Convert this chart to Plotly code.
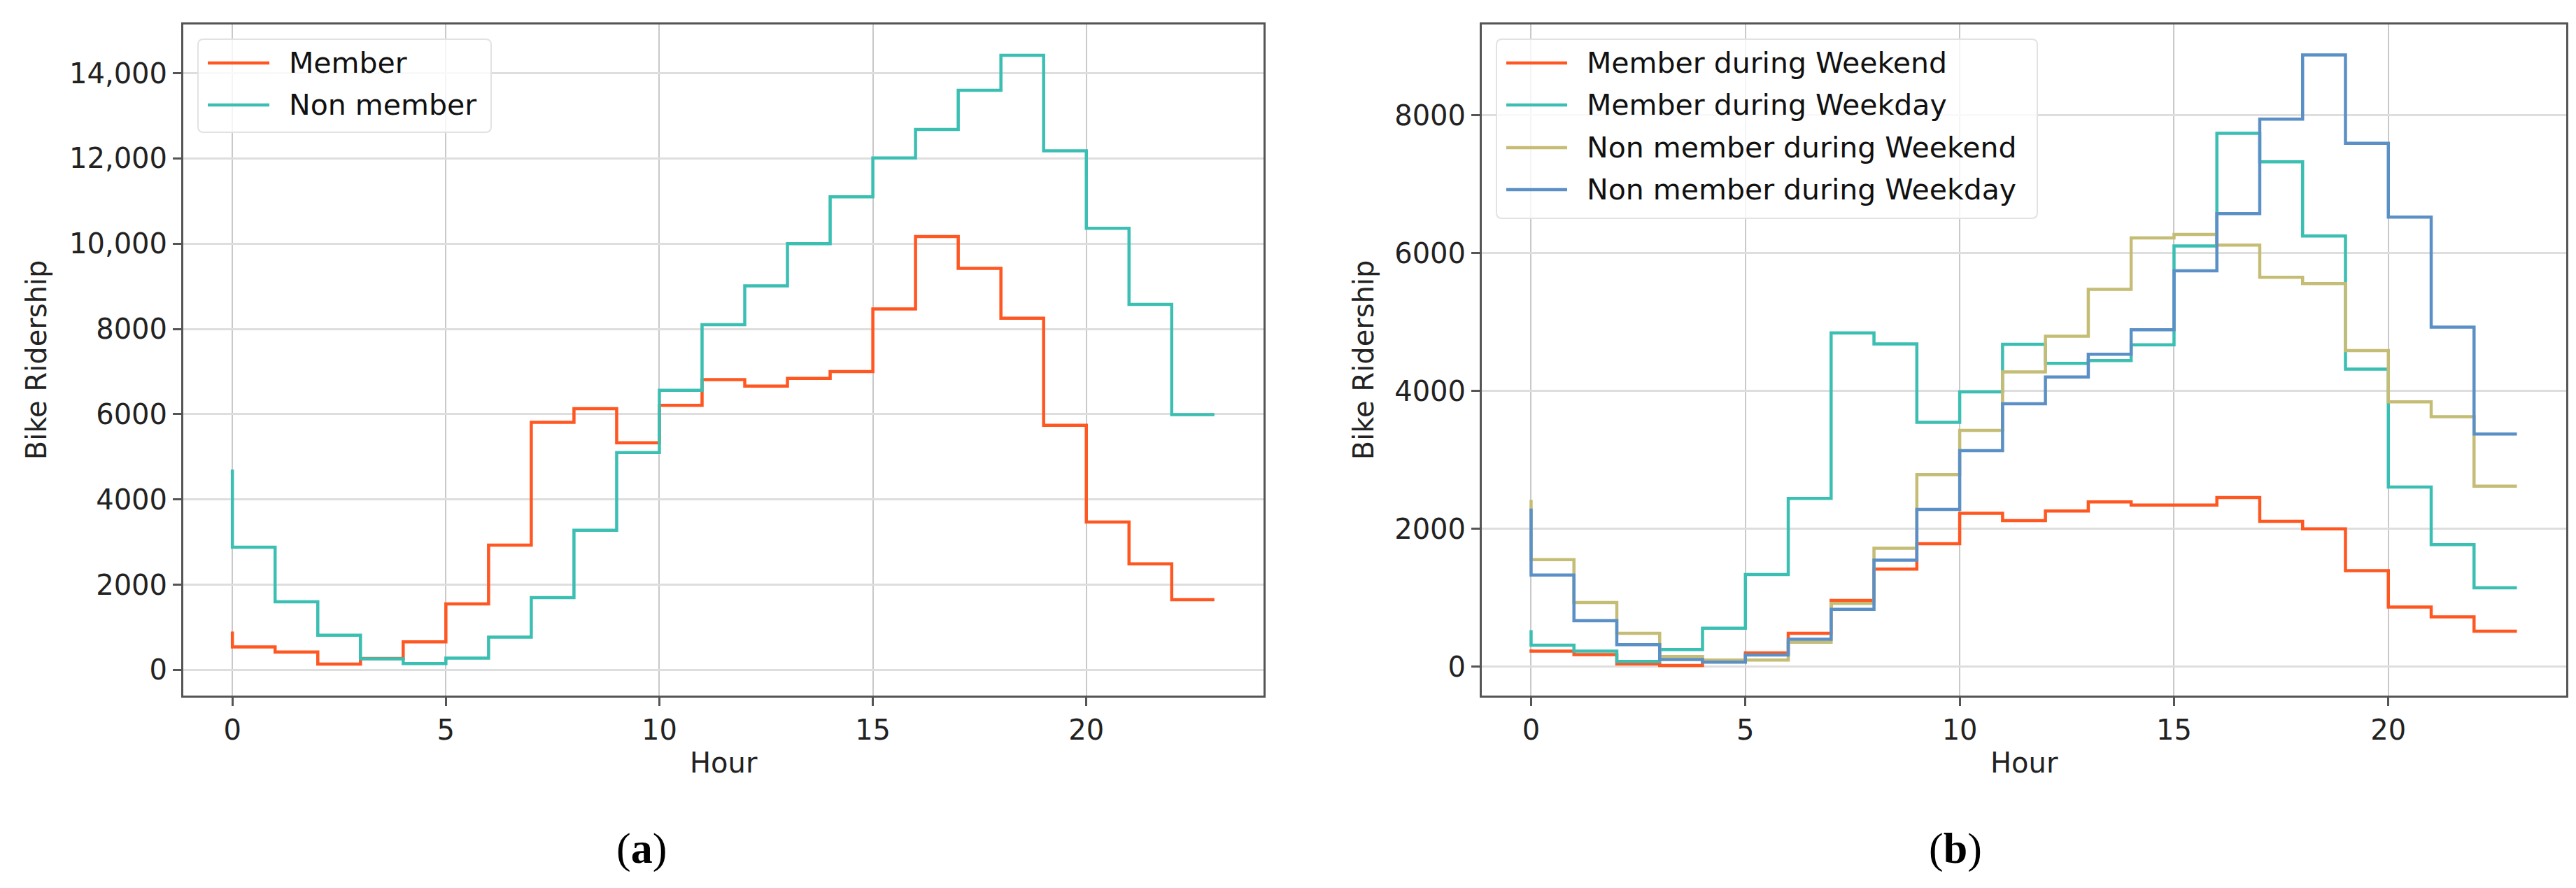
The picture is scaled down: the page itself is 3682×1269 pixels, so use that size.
import plotly.graph_objects as go

hours = list(range(24))

member = [900, 540, 420, 140, 270, 660, 1550, 2930, 5810, 6130, 5330, 6210,
          6810, 6660, 6840, 7000, 8470, 10170, 9420, 8250, 5740, 3470, 2490, 1650]
non_member = [4700, 2880, 1600, 815, 260, 150, 280, 770, 1700, 3280, 5100, 6560,
              8100, 9010, 10000, 11100, 12010, 12680, 13600, 14420, 12180, 10360, 8575, 5990]

member_weekend = [250, 225, 173, 40, 17, 70, 200, 485, 960, 1415, 1785, 2225,
                  2120, 2260, 2390, 2345, 2345, 2455, 2108, 2000, 1394, 866, 723, 515]
member_weekday = [530, 312, 225, 74, 247, 558, 1338, 2442, 4844, 4683, 3545, 3988,
                  4679, 4402, 4443, 4671, 6106, 7740, 7327, 6251, 4319, 2606, 1771, 1143]
nonmember_weekend = [2420, 1554, 931, 485, 147, 95, 95, 355, 918, 1719, 2788, 3430,
                     4278, 4795, 5477, 6222, 6272, 6119, 5651, 5560, 4588, 3843, 3628, 2619]
nonmember_weekday = [2294, 1329, 667, 320, 104, 65, 169, 398, 831, 1545, 2281, 3134,
                     3814, 4203, 4534, 4890, 5746, 6574, 7947, 8878, 7596, 6524, 4927, 3376]

left_yticks = [0, 2000, 4000, 6000, 8000, 10000, 12000, 14000]
left_yticktext = ["0", "2000", "4000", "6000", "8000", "10,000", "12,000", "14,000"]
right_yticks = [0, 2000, 4000, 6000, 8000]
right_yticktext = ["0", "2000", "4000", "6000", "8000"]
xticks = [0, 5, 10, 15, 20]

left_names = ["Member", "Non member"]
right_names = ["Member during Weekend", "Member during Weekday",
               "Non member during Weekend", "Non member during Weekday"]

ORANGE = "#FF5722"
TEAL = "#3CBFB3"
KHAKI = "#C5BD75"
BLUE = "#5B90C6"

W, H = 3682, 1269
FONT = "DejaVu Sans"
FS = 40
LFS = 41
LW = 4.5

fig = go.Figure()

def add(x, y, name, color, xa, ya):
    fig.add_trace(go.Scatter(x=x, y=y, name=name, mode="lines", showlegend=False,
                             line=dict(color=color, width=LW, shape="vh"),
                             xaxis=xa, yaxis=ya))

left_series = [member, non_member]
left_colors = [ORANGE, TEAL]
right_series = [member_weekend, member_weekday, nonmember_weekend, nonmember_weekday]
right_colors = [ORANGE, TEAL, KHAKI, BLUE]

for s, n, c in zip(left_series, left_names, left_colors):
    add(hours, s, n, c, "x", "y")
for s, n, c in zip(right_series, right_names, right_colors):
    add(hours, s, n, c, "x2", "y2")

ydom = [1 - 986 / H, 1 - 26.5 / H]
common_x = dict(range=[-1.15, 24.15], tickvals=xticks, showgrid=True,
                gridcolor="#c9c9c9", gridwidth=2, zeroline=False,
                showline=True, mirror=True, linecolor="#555555", linewidth=3,
                ticks="outside", ticklen=12, tickwidth=3, tickcolor="#555555",
                tickfont=dict(family=FONT, size=FS, color="#222222"))
common_y = dict(showgrid=True, gridcolor="#dedede", gridwidth=3, zeroline=False,
                showline=True, mirror=True, linecolor="#555555", linewidth=3,
                ticks="outside", ticklen=12, tickwidth=3, tickcolor="#555555",
                tickfont=dict(family=FONT, size=FS, color="#222222"))

fig.update_layout(
    width=W, height=H,
    margin=dict(l=0, r=0, t=0, b=0),
    paper_bgcolor="white", plot_bgcolor="white",
    font=dict(family=FONT, size=FS, color="#222222"),
    xaxis=dict(domain=[254 / W, 1798 / W], anchor="y", **common_x),
    yaxis=dict(domain=ydom, anchor="x", range=[-600, 15150],
               tickvals=left_yticks, ticktext=left_yticktext, **common_y),
    xaxis2=dict(domain=[2110 / W, 3660 / W], anchor="y2", **common_x),
    yaxis2=dict(domain=ydom, anchor="x2", range=[-420, 9325],
                tickvals=right_yticks, ticktext=right_yticktext, **common_y),
    showlegend=False,
)

# axis titles
annots = [
    dict(text="Bike Ridership", x=44 / W, y=(ydom[0] + ydom[1]) / 2, textangle=-90),
    dict(text="Bike Ridership", x=1941 / W, y=(ydom[0] + ydom[1]) / 2, textangle=-90),
    dict(text="Hour", x=1026 / W, y=1 - 1082 / H),
    dict(text="Hour", x=2885 / W, y=1 - 1082 / H),
]
for a in annots:
    fig.add_annotation(xref="paper", yref="paper", showarrow=False,
                       xanchor="center", yanchor="middle",
                       font=dict(family=FONT, size=FS, color="#222222"), **a)

# custom legends (matplotlib-style: long line handles, rounded frame)
def rounded_rect(x0, y0, x1, y1, r):
    # pixel coords (y down) -> paper
    px = lambda v: v / W
    py = lambda v: 1 - v / H
    rx, ry = r / W, r / H
    X0, X1, Y0, Y1 = px(x0), px(x1), py(y0), py(y1)
    return (f"M {X0+rx},{Y0} L {X1-rx},{Y0} Q {X1},{Y0} {X1},{Y0-ry} "
            f"L {X1},{Y1+ry} Q {X1},{Y1} {X1-rx},{Y1} L {X0+rx},{Y1} "
            f"Q {X0},{Y1} {X0},{Y1+ry} L {X0},{Y0-ry} Q {X0},{Y0} {X0+rx},{Y0} Z")

def legend(box, rows, line_x, text_x, names, colors):
    fig.add_shape(type="path", xref="paper", yref="paper", layer="above",
                  path=rounded_rect(*box, 8),
                  fillcolor="rgba(255,255,255,0.8)",
                  line=dict(color="#e2e2e2", width=2))
    for yy, n, c in zip(rows, names, colors):
        fig.add_shape(type="line", xref="paper", yref="paper", layer="above",
                      x0=line_x[0] / W, x1=line_x[1] / W, y0=1 - yy / H, y1=1 - yy / H,
                      line=dict(color=c, width=LW))
        fig.add_annotation(xref="paper", yref="paper", showarrow=False,
                           x=text_x / W, y=1 - yy / H, xanchor="left", yanchor="middle",
                           text=n, font=dict(family=FONT, size=LFS, color="#111111"))

legend((275, 48, 694, 181), [82, 142], (289, 377), 403, left_names, left_colors)
legend((2131, 48, 2904, 304), [82, 142, 203, 263], (2145, 2232), 2258,
       right_names, right_colors)

for lab, xc in [("(<b>a</b>)", 909), ("(<b>b</b>)", 2787)]:
    fig.add_annotation(xref="paper", yref="paper", showarrow=False,
                       x=xc / W, y=1 - 1204 / H, xanchor="center", yanchor="middle",
                       text=lab, font=dict(family="Liberation Serif", size=62, color="#000000"))

fig.write_html("out.html")
